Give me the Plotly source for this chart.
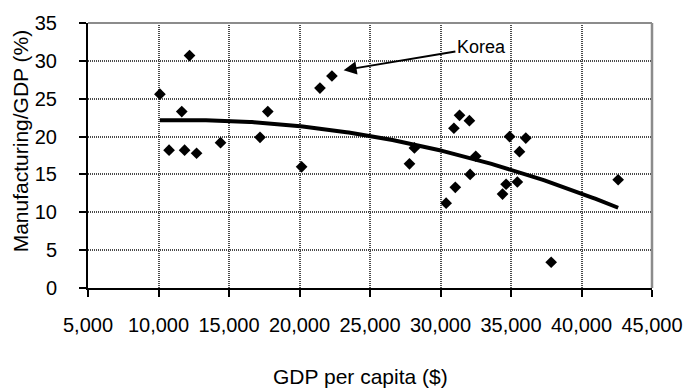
import numpy as np
import plotly.graph_objects as go

# GDP per capita ($) and manufacturing share of GDP (%) by country
gdp_per_capita = [10100, 10750, 11650, 11850, 12200, 12700, 14400, 17200, 17750,
                  20150, 21450, 22300, 27800, 28150, 30400, 30950, 31050, 31350,
                  32050, 32100, 32500, 34400, 34650, 34900, 35450, 35600, 36050,
                  37850, 42600]
manufacturing_share = [25.6, 18.2, 23.3, 18.2, 30.7, 17.8, 19.2, 19.9, 23.3,
                       16.0, 26.4, 28.0, 16.4, 18.5, 11.2, 21.1, 13.3, 22.8,
                       22.1, 15.0, 17.4, 12.4, 13.7, 20.0, 14.0, 18.0, 19.8,
                       3.4, 14.3]

x_ticks = [5000, 10000, 15000, 20000, 25000, 30000, 35000, 40000, 45000]
y_ticks = [0, 5, 10, 15, 20, 25, 30, 35]

korea_point = (22300, 28.0)

# Second-order polynomial trend line fitted to the scatter
coef = np.polyfit(gdp_per_capita, manufacturing_share, 2)
trend_x = np.linspace(min(gdp_per_capita), max(gdp_per_capita), 200)
trend_y = np.polyval(coef, trend_x)

FONT = "Liberation Sans, Arial, sans-serif"

fig = go.Figure()
fig.add_trace(go.Scatter(
    x=gdp_per_capita, y=manufacturing_share, mode="markers",
    marker=dict(symbol="diamond", size=9, color="black"),
    showlegend=False, hoverinfo="x+y",
))
fig.add_trace(go.Scatter(
    x=trend_x, y=trend_y, mode="lines",
    line=dict(color="black", width=4),
    showlegend=False, hoverinfo="skip",
))

grid = dict(showgrid=True, gridcolor="#4a4a4a", gridwidth=2, griddash="1px,1px")

fig.update_xaxes(
    range=[x_ticks[0], x_ticks[-1]], tickvals=x_ticks, tickformat=",d",
    showline=True, linecolor="black", linewidth=2,
    ticks="outside", ticklen=7, tickwidth=1.5, tickcolor="black",
    ticklabelstandoff=11, zeroline=False,
    tickfont=dict(family=FONT, size=20, color="black"), **grid,
)
fig.update_yaxes(
    range=[y_ticks[0], y_ticks[-1]], tickvals=y_ticks,
    showline=True, linecolor="black", linewidth=2,
    ticks="outside", ticklen=7, tickwidth=1.5, tickcolor="black",
    ticklabelstandoff=18, zeroline=False,
    tickfont=dict(family=FONT, size=20, color="black"), **grid,
)

# Grey frame along the top and right of the plotting area
fig.add_shape(type="line", xref="paper", yref="paper", x0=0, x1=1, y0=1, y1=1,
              line=dict(color="#8c8c8c", width=2), layer="above")
fig.add_shape(type="line", xref="paper", yref="paper", x0=1, x1=1, y0=0, y1=1,
              line=dict(color="#8c8c8c", width=2.5), layer="above")

fig.add_annotation(
    x=korea_point[0] + 830, y=korea_point[1] + 0.77, xref="x", yref="y",
    ax=32900, ay=31.8, axref="x", ayref="y",
    text="Korea", showarrow=True, arrowhead=2, arrowsize=1.3, arrowwidth=2,
    arrowcolor="black", font=dict(family=FONT, size=18, color="black"),
)
fig.add_annotation(
    x=(365 - 88) / 574, y=(288 - 377) / 267, xref="paper", yref="paper",
    showarrow=False, text="GDP per capita ($)", xanchor="center", yanchor="middle",
    font=dict(family=FONT, size=21, color="black"),
)
fig.add_annotation(
    x=(19 - 88) / 574, y=(288 - 140) / 267, xref="paper", yref="paper",
    showarrow=False, text="Manufacturing/GDP (%)", textangle=-90,
    xanchor="center", yanchor="middle",
    font=dict(family=FONT, size=21, color="black"),
)

fig.update_layout(
    width=695, height=391, autosize=False,
    margin=dict(l=88, r=33, t=21, b=103),
    paper_bgcolor="white", plot_bgcolor="white",
    font=dict(family=FONT, color="black"),
)

fig.write_html("out.html")
